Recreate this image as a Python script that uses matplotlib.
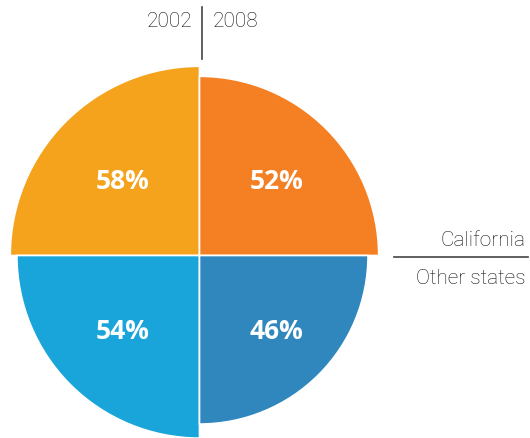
import matplotlib.pyplot as plt
from matplotlib.patches import Wedge
import numpy as np

# data
years = ['2002', '2008']
groups = ['California', 'Other states']
california = [58, 52]    # 2002, 2008
other_states = [54, 46]  # 2002, 2008
colors_cal = ['#F5A31C', '#F58024']
colors_oth = ['#1AA5DA', '#2F87BE']

W, H = 530, 439
fig = plt.figure(figsize=(W / 100, H / 100), dpi=100)
ax = fig.add_axes([0, 0, 1, 1])
ax.set_xlim(0, W)
ax.set_ylim(0, H)
ax.axis('off')

cx, cy = 199.5, H - 256.5
k = 24.85  # radius ~ sqrt(percent)

# (theta1, theta2) per quarter: 2002 on the left, 2008 on the right
angles_top = [(90, 180), (0, 90)]
angles_bot = [(180, 270), (270, 360)]
sign_x = [-1, 1]

for i in range(2):
    for vals, cols, angs, sy in [(california, colors_cal, angles_top, 1),
                                 (other_states, colors_oth, angles_bot, -1)]:
        r = k * np.sqrt(vals[i])
        ax.add_patch(Wedge((cx, cy), r, angs[i][0], angs[i][1],
                           facecolor=cols[i], edgecolor='white', linewidth=1.2))
        ax.text(cx + sign_x[i] * 77, cy + sy * 75, f'{vals[i]}%',
                color='white', fontsize=19, fontweight='bold', family='Open Sans',
                ha='center', va='center')

txt = dict(fontsize=15, color='#111111', family='Roboto', fontweight='light')

# year labels with divider
ax.plot([202, 202], [H - 8, H - 60], color='#444444', lw=1.2)
ax.text(192, H - 21, years[0], ha='right', va='center', **txt)
ax.text(213, H - 21, years[1], ha='left', va='center', **txt)

# group labels with divider
ax.plot([394, 528], [H - 258, H - 258], color='#444444', lw=1.2)
ax.text(526, H - 240, groups[0], ha='right', va='center', **txt)
ax.text(526, H - 278, groups[1], ha='right', va='center', **txt)

fig.savefig('out.png', dpi=100)
